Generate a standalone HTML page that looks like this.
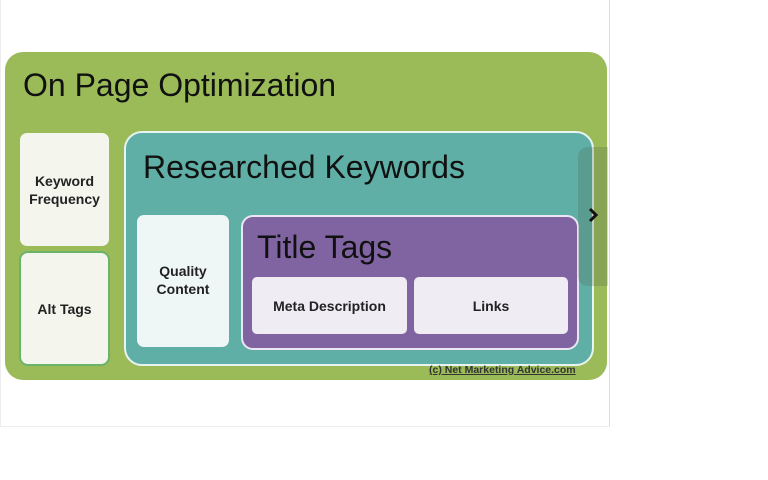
<!DOCTYPE html>
<html><head><style>
body{margin:0;width:768px;height:480px;background:#fff;position:relative;overflow:hidden;font-family:"Liberation Sans",sans-serif}
div{position:absolute;box-sizing:border-box}
.t{color:#111;white-space:nowrap}
.b{font-weight:bold;font-size:14px;color:#222;display:flex;align-items:center;justify-content:center;text-align:center;line-height:18px}
</style></head><body>
<div style="left:609px;top:0;width:1px;height:427px;background:#ddd"></div>
<div style="left:0;top:0;width:1px;height:427px;background:#eee"></div>
<div style="left:0;top:426px;width:610px;height:1px;background:#eee"></div>
<div style="left:5px;top:52px;width:602px;height:328px;background:#9bbb59;border-radius:18px"></div>
<div class="t" style="left:23px;top:67px;font-size:32px;letter-spacing:0">On Page Optimization</div>
<div class="b" style="left:20px;top:133px;width:89px;height:113px;background:#f4f6ee;border-radius:7px">Keyword<br>Frequency</div>
<div class="b" style="left:19px;top:251px;width:91px;height:115px;background:#f4f6ee;border:2px solid #6cb36a;border-radius:9px">Alt Tags</div>
<div style="left:124px;top:131px;width:470px;height:235px;background:#5fafa6;border:2px solid #e8f4f2;border-radius:18px"></div>
<div class="t" style="left:143px;top:149px;font-size:32px;letter-spacing:0">Researched Keywords</div>
<div class="b" style="left:137px;top:215px;width:92px;height:132px;background:#eef6f6;border-radius:7px;padding-bottom:3px">Quality<br>Content</div>
<div style="left:241px;top:215px;width:338px;height:135px;background:#8064a2;border:2px solid #ece6f2;border-radius:12px"></div>
<div class="t" style="left:257px;top:229px;font-size:32px;letter-spacing:0">Title Tags</div>
<div class="b" style="left:252px;top:277px;width:155px;height:57px;background:#efecf4;border-radius:5px">Meta Description</div>
<div class="b" style="left:414px;top:277px;width:154px;height:57px;background:#efecf4;border-radius:5px">Links</div>
<div style="left:578px;top:147px;width:30px;height:139px;background:rgba(80,100,80,0.25);border-radius:10px 0 0 10px"></div>
<svg style="position:absolute;left:588px;top:207px" width="12" height="16"><path d="M2 2 L8 8 L2 14" stroke="#111" stroke-width="3" fill="none"/></svg>
<div class="t" style="left:429px;top:364px;font-size:10.5px;font-weight:bold;color:#333;text-decoration:underline">(c) Net Marketing Advice.com</div>
</body></html>
